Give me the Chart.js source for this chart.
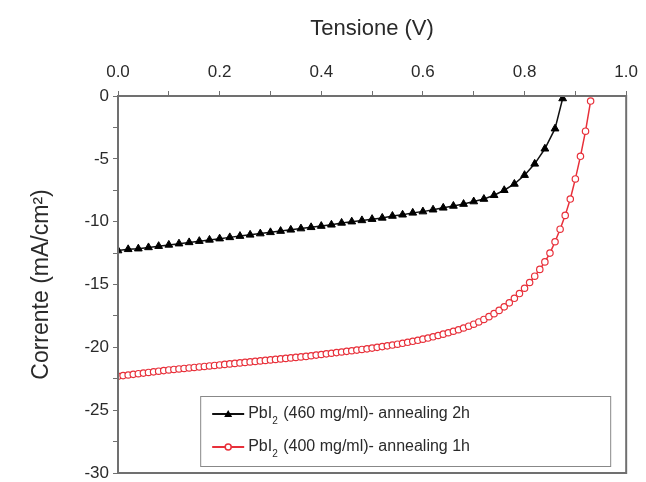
<!DOCTYPE html>
<html>
<head>
<meta charset="utf-8">
<script src="https://cdn.jsdelivr.net/npm/chart.js@4.4.0/dist/chart.umd.min.js"></script>
<style>
  html, body { margin: 0; padding: 0; background: #fff; }
  #wrap { width: 646px; height: 482px; }
</style>
</head>
<body>
<div id="wrap"><canvas id="ivChart" width="646" height="482"></canvas></div>
<script>
// J-V curves
const voltageA = [0.00, 0.02, 0.04, 0.06, 0.08, 0.10, 0.12, 0.14, 0.16, 0.18,
                  0.20, 0.22, 0.24, 0.26, 0.28, 0.30, 0.32, 0.34, 0.36, 0.38,
                  0.40, 0.42, 0.44, 0.46, 0.48, 0.50, 0.52, 0.54, 0.56, 0.58,
                  0.60, 0.62, 0.64, 0.66, 0.68, 0.70, 0.72, 0.74, 0.76, 0.78,
                  0.80, 0.82, 0.84, 0.86, 0.875];
const currentA = [-12.3, -12.2, -12.15, -12.05, -11.95, -11.85, -11.75, -11.65, -11.55, -11.45,
                  -11.35, -11.25, -11.15, -11.05, -10.95, -10.85, -10.75, -10.65, -10.55, -10.45,
                  -10.35, -10.25, -10.1, -10.0, -9.9, -9.8, -9.7, -9.55, -9.45, -9.3,
                  -9.2, -9.05, -8.9, -8.75, -8.6, -8.4, -8.2, -7.9, -7.5, -7.0,
                  -6.3, -5.4, -4.2, -2.6, -0.2];

const voltageB = [0.00, 0.01, 0.02, 0.03, 0.04, 0.05, 0.06, 0.07, 0.08, 0.09,
                  0.10, 0.11, 0.12, 0.13, 0.14, 0.15, 0.16, 0.17, 0.18, 0.19,
                  0.20, 0.21, 0.22, 0.23, 0.24, 0.25, 0.26, 0.27, 0.28, 0.29,
                  0.30, 0.31, 0.32, 0.33, 0.34, 0.35, 0.36, 0.37, 0.38, 0.39,
                  0.40, 0.41, 0.42, 0.43, 0.44, 0.45, 0.46, 0.47, 0.48, 0.49,
                  0.50, 0.51, 0.52, 0.53, 0.54, 0.55, 0.56, 0.57, 0.58, 0.59,
                  0.60, 0.61, 0.62, 0.63, 0.64, 0.65, 0.66, 0.67, 0.68, 0.69,
                  0.70, 0.71, 0.72, 0.73, 0.74, 0.75, 0.76, 0.77, 0.78, 0.79,
                  0.80, 0.81, 0.82, 0.83, 0.84, 0.85, 0.86, 0.87, 0.88, 0.89,
                  0.90, 0.91, 0.92, 0.93];
const currentB = [-22.3, -22.25, -22.2, -22.15, -22.1, -22.05, -22.0, -21.95, -21.9, -21.85,
                  -21.8, -21.76, -21.72, -21.68, -21.64, -21.6, -21.56, -21.52, -21.48, -21.44,
                  -21.4, -21.36, -21.32, -21.28, -21.24, -21.2, -21.16, -21.12, -21.08, -21.04,
                  -21.0, -20.96, -20.92, -20.88, -20.84, -20.8, -20.76, -20.72, -20.67, -20.62,
                  -20.57, -20.52, -20.47, -20.42, -20.37, -20.32, -20.27, -20.22, -20.17, -20.12,
                  -20.06, -20.0, -19.94, -19.88, -19.82, -19.75, -19.68, -19.6, -19.52, -19.44,
                  -19.35, -19.26, -19.16, -19.06, -18.95, -18.84, -18.72, -18.6, -18.46, -18.32,
                  -18.16, -17.98, -17.78, -17.56, -17.32, -17.06, -16.78, -16.46, -16.1, -15.72,
                  -15.3, -14.84, -14.34, -13.8, -13.2, -12.5, -11.6, -10.6, -9.5, -8.2,
                  -6.6, -4.8, -2.8, -0.4];

const seriesLabels = ['PbI₂ (460 mg/ml)- annealing 2h', 'PbI₂ (400 mg/ml)- annealing 1h'];
const axisColor = '#707070';
const textColor = '#2a2a2a';
const fontFamily = '"Liberation Sans", Arial, sans-serif';

function toPoints(xs, ys) {
    return xs.map((x, i) => ({ x: x, y: ys[i] }));
}

// box round the plot area
const frame = {
    id: 'frame',
    afterDatasetsDraw(chart) {
        const a = chart.chartArea, ctx = chart.ctx;
        ctx.save();
        ctx.strokeStyle = axisColor;
        ctx.lineWidth = 2;
        ctx.strokeRect(a.left, a.top, a.right - a.left, a.bottom - a.top);
        ctx.restore();
    }
};

// legend drawn inside the plot, bottom right, with subscripts
const boxLegend = {
    id: 'boxLegend',
    afterDraw(chart) {
        const a = chart.chartArea, ctx = chart.ctx;
        const w = 410, h = 70;
        const x0 = a.right - 16 - w, y0 = a.bottom - 7 - h;
        ctx.save();
        ctx.fillStyle = '#fff';
        ctx.fillRect(x0, y0, w, h);
        ctx.strokeStyle = '#888';
        ctx.lineWidth = 1;
        ctx.strokeRect(x0 + 0.5, y0 + 0.5, w, h);
        chart.data.datasets.forEach((ds, i) => {
            const cy = y0 + 18 + i * 33;
            const lx = x0 + 12;
            ctx.strokeStyle = ds.borderColor;
            ctx.lineWidth = 2;
            ctx.beginPath();
            ctx.moveTo(lx, cy);
            ctx.lineTo(lx + 32, cy);
            ctx.stroke();
            // marker
            ctx.fillStyle = ds.pointBackgroundColor;
            ctx.strokeStyle = ds.pointBorderColor;
            ctx.lineWidth = 1.5;
            ctx.beginPath();
            if (ds.pointStyle === 'triangle') {
                ctx.moveTo(lx + 16, cy - 4);
                ctx.lineTo(lx + 20, cy + 3);
                ctx.lineTo(lx + 12, cy + 3);
                ctx.closePath();
                ctx.fill();
            } else {
                ctx.arc(lx + 16, cy, 3, 0, Math.PI * 2);
                ctx.fill();
                ctx.stroke();
            }
            // text with subscript 2
            const parts = ds.label.split('₂');
            let tx = lx + 36;
            ctx.fillStyle = textColor;
            ctx.textBaseline = 'middle';
            ctx.font = '16px ' + fontFamily;
            ctx.fillText(parts[0], tx, cy);
            tx += ctx.measureText(parts[0]).width;
            ctx.font = '10px ' + fontFamily;
            ctx.fillText('2', tx, cy + 7);
            tx += ctx.measureText('2').width + 1;
            ctx.font = '16px ' + fontFamily;
            ctx.fillText(parts[1], tx, cy);
        });
        ctx.restore();
    }
};

const ctx = document.getElementById('ivChart').getContext('2d');
const ivChart = new Chart(ctx, {
    type: 'line',
    data: {
        datasets: [{
            label: seriesLabels[0],
            data: toPoints(voltageA, currentA),
            borderColor: '#111',
            borderWidth: 1.5,
            pointStyle: 'triangle',
            pointRadius: 4.5,
            pointBackgroundColor: '#000',
            pointBorderColor: '#000',
            pointBorderWidth: 1,
            tension: 0
        }, {
            label: seriesLabels[1],
            data: toPoints(voltageB, currentB),
            borderColor: '#e8303a',
            borderWidth: 1.5,
            pointStyle: 'circle',
            pointRadius: 3.2,
            pointBackgroundColor: '#fff',
            pointBorderColor: '#e8303a',
            pointBorderWidth: 1.2,
            tension: 0
        }]
    },
    options: {
        responsive: false,
        animation: false,
        layout: { padding: { left: 28, right: 16, top: 16, bottom: 9 } },
        plugins: {
            legend: { display: false },
            tooltip: { enabled: false }
        },
        scales: {
            x: {
                type: 'linear',
                position: 'top',
                min: 0,
                max: 1,
                afterFit: s => { s.height = 80; },
                title: {
                    display: true,
                    text: 'Tensione (V)',
                    color: textColor,
                    font: { family: fontFamily, size: 22 },
                    padding: { top: 0, bottom: 8 }
                },
                ticks: {
                    stepSize: 0.1,
                    color: textColor,
                    font: { family: fontFamily, size: 17 },
                    padding: 8,
                    maxRotation: 0,
                    callback: v => (Math.round(v * 10) % 2 === 0 ? v.toFixed(1) : '')
                },
                grid: {
                    drawOnChartArea: false,
                    color: axisColor,
                    tickLength: 5
                },
                border: { color: axisColor, width: 2 }
            },
            y: {
                min: -30,
                max: 0,
                afterFit: s => { s.width = 90; s.paddingBottom = 0; s.paddingTop = 0; },
                title: {
                    display: true,
                    text: 'Corrente (mA/cm²)',
                    color: textColor,
                    font: { family: fontFamily, size: 23 },
                    padding: { top: 0, bottom: 4 }
                },
                ticks: {
                    stepSize: 2.5,
                    color: textColor,
                    font: { family: fontFamily, size: 17 },
                    padding: 4,
                    callback: v => (v % 5 === 0 ? String(v) : '')
                },
                grid: {
                    drawOnChartArea: false,
                    color: axisColor,
                    tickLength: 5
                },
                border: { color: axisColor, width: 2 }
            }
        }
    },
    plugins: [frame, boxLegend]
});
</script>
</body>
</html>
